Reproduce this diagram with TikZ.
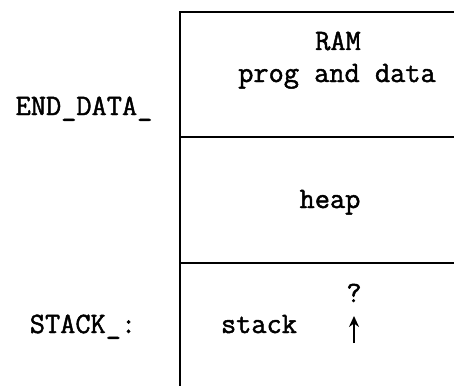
\documentclass[tikz,border=0pt]{standalone}
\usepackage{fontspec}
\newfontfamily\ttb[FakeBold=1.6]{Latin Modern Mono}
\usetikzlibrary{arrows.meta}
\begin{document}
\begin{tikzpicture}[x=1pt,y=-1pt,
  lbl/.style={font=\fontsize{29.5}{32}\selectfont\ttb, inner sep=0pt, anchor=base},
  wall/.style={line width=2.6pt, line cap=rect}]
\useasboundingbox (0,0) rectangle (454,385);
% memory block outline
\draw[wall] (180,12) -- (454,12);
\draw[wall] (180,12) -- (180,385);
\draw[wall] (180,137) -- (454,137);
\draw[wall] (180,263) -- (454,263);
% texts
\node[lbl] (ram) at (338,50) {RAM};
\node[lbl] (prog) at (337,82) {prog and data};
\node[lbl] (heap) at (330,208) {heap};
\node[lbl] (stack) at (259,333) {stack};
\node[lbl] (q) at (354,302) {?};
\node[lbl] (enddata) at (84,115) {END\_DATA\_};
\node[lbl] (stk) at (83,333) {STACK\_:};
\coordinate (abase) at (354,343);
\coordinate (atip) at (354,316);
\draw[line width=2.6pt, -{Stealth[length=11pt,width=10pt]}] (abase) -- (atip);
\end{tikzpicture}
\end{document}
